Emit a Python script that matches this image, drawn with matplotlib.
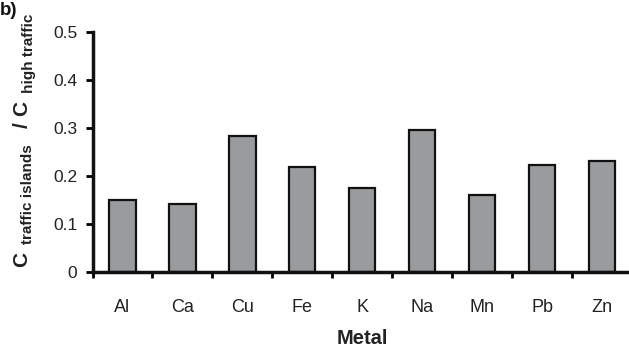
import matplotlib
matplotlib.use("Agg")
import matplotlib.pyplot as plt
import numpy as np

metals = ["Al", "Ca", "Cu", "Fe", "K", "Na", "Mn", "Pb", "Zn"]
ratios = [0.150, 0.142, 0.283, 0.219, 0.174, 0.295, 0.160, 0.223, 0.230]
yticks = [0, 0.1, 0.2, 0.3, 0.4, 0.5]
ytick_labels = ["0", "0.1", "0.2", "0.3", "0.4", "0.5"]

plt.rcParams['font.family'] = ['Liberation Sans', 'DejaVu Sans']

W, H = 629, 349
fig = plt.figure(figsize=(W / 100, H / 100), dpi=100)
left, right, top, bottom = 92.5, 632, 31.7, 271.7
ax = fig.add_axes([left / W, 1 - bottom / H, (right - left) / W, (bottom - top) / H])

x = np.arange(len(metals))
ax.bar(x, ratios, width=0.44, color="#9a9b9d", edgecolor="#111111", linewidth=1.6, zorder=2)

ax.set_xlim(-0.5, len(metals) - 0.5)
ax.set_ylim(0, 0.5)
ax.set_yticks(yticks)
ax.set_yticklabels(ytick_labels, fontsize=12.5, color="#222222")

ax.set_xticks(np.arange(-0.5, len(metals), 1.0))
ax.set_xticklabels([])
ax.set_xticks(x, minor=True)
ax.set_xticklabels(metals, minor=True, fontsize=13, color="#222222")
ax.tick_params(axis='x', which='major', direction='out', length=4, width=2)
ax.tick_params(axis='x', which='minor', length=0, pad=20)
ax.tick_params(axis='y', direction='out', length=5, width=2, pad=6)

for s in ["top", "right"]:
    ax.spines[s].set_visible(False)
for s in ["left", "bottom"]:
    ax.spines[s].set_linewidth(2.5)
    ax.spines[s].set_color("#111111")

# x-axis title
fig.text((left + right) / 2 / W, 1 - 348.5 / H, "Metal", fontsize=14.5, fontweight="bold",
         color="#222222", ha="center", va="bottom")

# y-axis title built from pieces: C with subscripts
renderer = fig.canvas.get_renderer()
pieces = [
    ("C", 15, 27.5, 0),
    ("traffic islands", 11, 32.5, 8),
    ("/", 15, 27.5, 16),
    ("C", 15, 27.5, 6),
    ("high traffic", 11, 32.5, 8),
]
ypos = H - 267.0  # display pixels from bottom
for txt, fs, xb, gap in pieces:
    ypos += gap
    t = fig.text(xb / W, ypos / H, txt, fontsize=fs, fontweight="bold", color="#222222",
                 rotation=90, rotation_mode="anchor", ha="left", va="baseline")
    bb = t.get_window_extent(renderer)
    ypos = bb.y1

fig.text(0, 1 - 15 / H, "b)", fontsize=13.5, fontweight="bold", color="#111111")

fig.savefig("out.png", dpi=100)
